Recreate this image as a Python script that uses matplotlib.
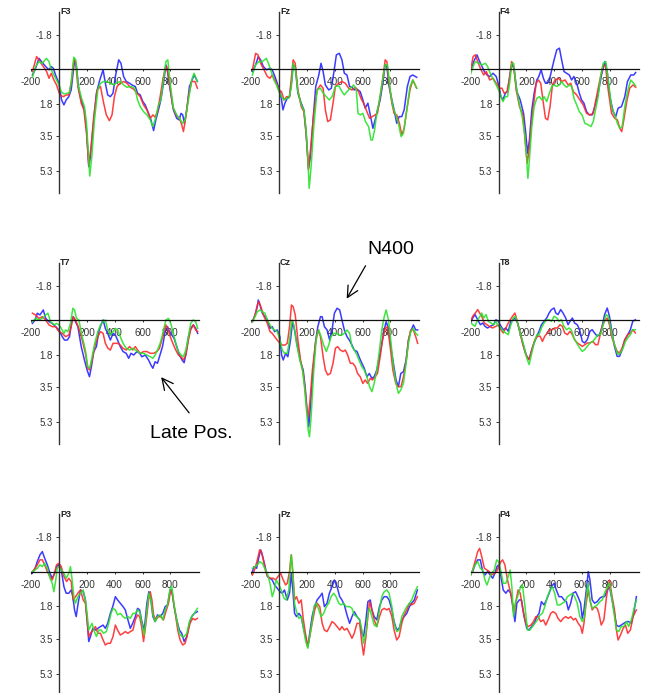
import matplotlib
matplotlib.use('Agg')
import matplotlib.pyplot as plt

# ERP waveforms (ms, microvolts; negative plotted up)
F3_blue = [(-190, 0.30), (-171, 0.03), (-143, -0.57), (-119, -0.35), (-95, -0.14), (-71, 0.03), (-55, -0.14), (-40, -0.05), (-24, 0.30), (0, 0.73), (19, 1.60), (36, 1.86), (52, 1.60), (71, 1.43), (88, 1.08), (107, -0.14), (114, -0.49), (126, -0.14), (143, 1.08), (167, 1.77), (183, 2.12), (198, 3.17), (214, 5.08), (226, 4.56), (245, 2.99), (269, 1.25), (293, 0.56), (317, 0.03), (333, 0.73), (350, 1.34), (369, 1.43), (388, 1.25), (405, 0.38), (429, -0.49), (445, -0.31), (464, 0.38), (483, 0.64), (507, 0.73), (524, 0.82), (548, 0.90), (564, 1.25), (583, 1.34), (602, 1.69), (619, 1.86), (643, 2.30), (660, 2.64), (679, 3.20), (695, 2.64), (714, 2.12), (731, 1.60), (750, 0.73), (767, -0.23), (779, 0.12), (798, 1.08), (821, 2.12), (845, 2.56), (862, 2.64), (876, 2.30), (888, 2.38), (900, 2.82), (917, 2.12), (936, 0.90), (960, 0.47), (971, 0.30), (993, 0.64)]
F3_red = [(-190, 0.12), (-160, -0.66), (-136, -0.40), (-112, -0.14), (-88, 0.12), (-71, 0.47), (-55, 0.21), (-36, 0.56), (-17, 0.82), (7, 1.34), (31, 1.43), (55, 1.34), (71, 1.34), (88, 0.73), (107, -0.49), (119, -0.40), (136, 0.90), (160, 1.77), (179, 2.12), (198, 3.34), (214, 4.99), (231, 4.03), (250, 2.47), (274, 1.08), (298, 0.90), (321, 1.77), (340, 2.38), (362, 2.68), (381, 2.38), (398, 1.43), (417, 0.90), (440, 0.73), (464, 0.64), (488, 0.73), (512, 0.94), (536, 1.04), (560, 1.25), (583, 1.43), (607, 1.86), (631, 2.12), (655, 2.56), (674, 2.38), (690, 2.50), (707, 2.21), (726, 1.43), (745, 0.56), (762, -0.05), (774, -0.14), (793, 0.73), (817, 1.95), (840, 2.38), (864, 2.56), (881, 2.90), (893, 3.25), (907, 2.64), (929, 1.43), (952, 0.64), (976, 0.64), (993, 0.99)]
F3_green = [(-190, 0.42), (-167, -0.14), (-143, -0.40), (-119, -0.31), (-90, -0.57), (-71, -0.40), (-55, 0.03), (-36, 0.30), (-17, 0.56), (0, 0.82), (17, 1.17), (36, 1.29), (60, 1.25), (76, 1.22), (90, 0.56), (107, -0.63), (121, -0.49), (138, 0.82), (162, 1.51), (183, 1.95), (198, 2.82), (210, 4.21), (221, 5.57), (236, 4.56), (255, 2.64), (279, 1.08), (298, 0.73), (321, 0.64), (345, 0.64), (369, 0.73), (393, 0.82), (417, 0.70), (440, 0.64), (464, 0.82), (488, 0.94), (512, 0.90), (536, 0.94), (548, 1.08), (564, 1.60), (583, 1.95), (607, 2.21), (631, 2.38), (655, 2.64), (674, 2.99), (693, 2.56), (714, 1.86), (731, 1.60), (750, 0.56), (767, -0.40), (781, -0.49), (798, 0.73), (821, 2.03), (845, 2.38), (869, 2.61), (888, 2.82), (905, 2.64), (929, 1.60), (952, 0.56), (969, 0.21), (993, 0.64)]

Fz_blue = [(-190, 0.12), (-167, -0.23), (-148, -0.66), (-131, -0.49), (-112, -0.14), (-88, 0.03), (-64, -0.05), (-48, 0.03), (-24, 0.47), (0, 0.99), (17, 1.51), (29, 2.12), (43, 1.77), (60, 1.51), (76, 1.43), (93, 0.56), (102, -0.23), (117, -0.14), (136, 1.25), (160, 1.77), (179, 2.12), (195, 3.34), (212, 5.17), (226, 4.56), (245, 2.64), (264, 0.90), (286, 0.30), (302, -0.31), (317, 0.12), (333, 0.82), (357, 1.08), (376, 0.99), (393, 0.21), (412, -0.75), (433, -0.83), (452, -0.49), (469, 0.21), (488, 0.30), (507, 0.90), (524, 0.94), (540, 1.08), (560, 1.04), (583, 1.17), (602, 1.60), (619, 2.03), (638, 1.77), (655, 2.38), (674, 3.08), (690, 2.64), (707, 2.12), (726, 1.60), (745, 0.73), (762, -0.23), (774, -0.14), (790, 0.90), (810, 1.60), (826, 2.12), (845, 2.82), (862, 2.47), (881, 2.47), (898, 2.12), (921, 0.90), (940, 0.38), (960, 0.30), (988, 0.42)]
Fz_red = [(-190, 0.03), (-167, -0.83), (-150, -0.75), (-131, -0.31), (-107, 0.03), (-83, 0.38), (-64, 0.47), (-48, 0.30), (-24, 0.64), (0, 1.08), (19, 1.17), (36, 1.60), (55, 1.43), (76, 1.43), (90, 0.38), (102, -0.49), (117, -0.31), (136, 1.08), (160, 1.95), (179, 2.21), (195, 3.34), (212, 5.25), (226, 4.21), (250, 2.30), (274, 1.08), (298, 0.82), (317, 0.99), (333, 2.12), (350, 2.73), (369, 2.64), (388, 1.77), (405, 0.90), (429, 0.73), (452, 0.64), (476, 0.73), (500, 0.99), (524, 1.08), (548, 0.94), (571, 1.17), (588, 1.51), (607, 1.77), (631, 2.21), (650, 2.56), (669, 2.47), (690, 2.38), (707, 2.30), (726, 1.43), (745, 0.47), (762, -0.49), (774, -0.40), (790, 0.73), (810, 1.77), (826, 2.30), (845, 2.38), (864, 2.82), (881, 3.43), (898, 3.08), (917, 2.12), (940, 1.08), (960, 0.56), (988, 0.99)]
Fz_green = [(-190, 0.30), (-167, -0.23), (-143, -0.40), (-119, -0.40), (-90, -0.57), (-71, -0.23), (-55, 0.12), (-36, 0.56), (-17, 0.82), (0, 1.17), (19, 1.43), (36, 1.60), (55, 1.51), (71, 1.51), (88, 0.99), (102, -0.31), (117, -0.05), (136, 1.17), (160, 1.86), (179, 2.12), (193, 2.99), (207, 4.56), (217, 6.21), (231, 5.08), (250, 2.99), (274, 1.08), (298, 0.99), (317, 1.25), (340, 1.43), (360, 1.60), (381, 1.43), (405, 0.90), (429, 0.87), (452, 1.17), (469, 1.34), (488, 1.17), (512, 0.99), (536, 0.82), (555, 1.08), (567, 2.30), (583, 2.38), (602, 2.30), (621, 2.73), (643, 2.99), (660, 3.69), (671, 3.69), (686, 3.17), (702, 2.30), (721, 1.60), (743, 0.56), (762, -0.23), (779, -0.23), (798, 1.08), (817, 1.95), (838, 2.38), (857, 2.82), (876, 3.51), (893, 3.34), (917, 2.12), (940, 0.90), (960, 0.56), (988, 0.99)]

F4_blue = [(-200, 0.12), (-179, -0.40), (-155, -0.75), (-136, -0.40), (-119, -0.14), (-102, 0.12), (-83, 0.30), (-64, 0.38), (-40, 0.21), (-17, 0.38), (0, 0.82), (17, 1.43), (31, 1.60), (48, 1.25), (64, 1.17), (83, 0.21), (98, -0.31), (112, 0.03), (131, 1.17), (155, 1.60), (179, 2.30), (195, 3.34), (207, 4.38), (221, 3.69), (238, 2.12), (255, 1.25), (274, 0.56), (288, 0.38), (305, 0.03), (321, 0.47), (336, 0.73), (350, 0.73), (364, 0.56), (381, 0.03), (398, -0.49), (417, -1.01), (436, -1.10), (452, -0.49), (469, 0.12), (488, 0.21), (507, 0.30), (524, 0.56), (540, 0.38), (560, 0.73), (579, 1.25), (595, 1.60), (612, 1.77), (631, 2.21), (650, 2.38), (671, 2.38), (690, 1.95), (714, 1.25), (738, 0.30), (762, -0.40), (779, 0.12), (798, 1.43), (821, 2.21), (840, 2.47), (857, 2.03), (881, 1.95), (905, 1.43), (924, 0.64), (948, 0.30), (969, 0.30), (983, 0.17)]
F4_red = [(-200, 0.03), (-183, -0.66), (-167, -0.75), (-150, -0.40), (-131, -0.05), (-107, 0.30), (-88, 0.12), (-64, 0.56), (-40, 0.47), (-17, 0.73), (7, 0.99), (24, 0.99), (40, 1.25), (60, 1.17), (76, 0.56), (93, -0.40), (107, -0.23), (126, 1.08), (150, 1.95), (174, 2.38), (190, 3.69), (205, 4.90), (219, 4.21), (238, 2.64), (255, 1.60), (269, 0.73), (286, 0.56), (302, 0.73), (321, 1.77), (336, 2.56), (352, 2.64), (369, 1.95), (386, 0.82), (405, 0.56), (429, 0.47), (452, 0.64), (476, 0.56), (500, 0.82), (517, 0.73), (536, 1.17), (560, 1.34), (583, 1.60), (607, 1.86), (631, 2.30), (655, 2.38), (679, 2.30), (702, 1.43), (726, 0.56), (750, -0.23), (767, -0.14), (786, 1.08), (810, 2.30), (833, 2.56), (852, 2.64), (869, 3.08), (883, 3.25), (898, 2.64), (921, 1.60), (940, 0.99), (964, 0.82), (983, 0.94)]
F4_green = [(-200, 0.24), (-183, -0.14), (-167, -0.40), (-143, -0.31), (-119, -0.23), (-95, -0.31), (-79, -0.14), (-60, 0.21), (-36, 0.56), (-17, 0.82), (0, 1.08), (17, 1.43), (31, 1.69), (48, 1.43), (64, 1.43), (79, 0.73), (95, -0.31), (107, -0.31), (126, 0.90), (150, 1.86), (169, 2.47), (186, 3.34), (200, 4.56), (210, 5.69), (221, 4.73), (238, 2.99), (255, 1.95), (274, 1.51), (293, 1.43), (310, 1.60), (326, 1.43), (345, 1.69), (364, 1.25), (381, 0.90), (398, 0.82), (417, 0.90), (436, 0.82), (452, 0.64), (469, 0.82), (488, 0.94), (507, 0.82), (524, 0.90), (540, 1.51), (560, 1.86), (579, 2.21), (598, 2.38), (619, 2.82), (643, 2.90), (662, 2.99), (679, 2.73), (695, 2.12), (714, 1.43), (731, 0.38), (750, -0.31), (769, -0.40), (786, 0.56), (810, 1.95), (833, 2.38), (852, 2.82), (869, 3.08), (886, 2.99), (905, 1.95), (924, 1.17), (948, 0.56), (969, 0.73), (983, 0.87)]

T7_blue = [(-190, 0.16), (-171, -0.02), (-155, -0.37), (-136, -0.28), (-112, -0.54), (-95, -0.10), (-71, 0.07), (-48, 0.16), (-24, 0.33), (0, 0.50), (24, 0.85), (40, 1.03), (60, 1.03), (76, 0.85), (90, 0.16), (102, -0.19), (119, 0.07), (136, 0.33), (160, 1.37), (183, 2.07), (202, 2.59), (219, 2.94), (233, 2.42), (250, 1.63), (269, 1.37), (286, 0.59), (302, 0.24), (317, -0.02), (333, 0.42), (350, 0.68), (369, 1.03), (388, 0.68), (405, 0.77), (421, 1.03), (440, 1.37), (460, 1.63), (483, 1.72), (500, 1.98), (517, 1.72), (536, 1.81), (560, 1.63), (579, 1.72), (595, 1.90), (619, 1.81), (643, 2.07), (660, 2.33), (674, 2.50), (690, 2.16), (707, 2.24), (721, 1.90), (743, 1.37), (762, 0.59), (779, 0.33), (793, 0.59), (810, 0.77), (826, 0.94), (845, 1.37), (864, 1.81), (883, 2.07), (898, 2.21), (912, 1.72), (929, 0.85), (945, 0.42), (964, 0.24), (981, 0.42), (995, 0.68)]
T7_red = [(-190, -0.37), (-167, -0.28), (-143, -0.10), (-119, -0.19), (-95, -0.02), (-71, 0.24), (-48, 0.33), (-24, 0.33), (0, 0.59), (24, 0.68), (48, 0.85), (71, 0.77), (88, 0.33), (102, -0.19), (119, -0.02), (143, 0.42), (167, 1.03), (190, 1.72), (207, 2.50), (221, 2.59), (238, 2.07), (257, 1.37), (279, 0.85), (298, 0.59), (317, 0.68), (333, 1.20), (352, 1.46), (369, 1.55), (388, 1.20), (405, 1.20), (421, 1.20), (440, 1.29), (460, 1.46), (483, 1.55), (507, 1.37), (529, 1.55), (548, 1.37), (564, 1.55), (583, 1.72), (607, 1.63), (631, 1.63), (655, 1.72), (679, 1.72), (702, 1.63), (721, 1.46), (745, 0.85), (767, 0.24), (781, 0.42), (798, 0.85), (817, 1.20), (838, 1.55), (857, 1.81), (876, 1.90), (893, 2.07), (910, 1.81), (929, 1.03), (945, 0.50), (964, 0.24), (981, 0.50), (995, 0.59)]
T7_green = [(-190, 0.07), (-167, -0.10), (-143, -0.02), (-119, -0.10), (-95, -0.28), (-79, -0.37), (-60, 0.07), (-36, 0.24), (-17, 0.16), (0, 0.24), (17, 0.42), (36, 0.68), (48, 0.50), (64, 0.59), (83, 0.16), (100, -0.63), (112, -0.54), (126, -0.10), (143, -0.02), (167, 0.85), (190, 1.55), (207, 2.42), (221, 2.50), (238, 1.90), (257, 1.20), (279, 0.59), (298, 0.24), (317, 0.07), (333, -0.02), (350, 0.50), (369, 0.77), (388, 0.59), (405, 0.42), (421, 0.50), (440, 0.85), (460, 1.20), (483, 1.46), (507, 1.55), (529, 1.46), (548, 1.55), (564, 1.63), (583, 1.72), (607, 1.72), (631, 1.81), (655, 1.90), (674, 1.98), (690, 1.81), (707, 1.55), (726, 1.20), (745, 0.68), (767, -0.02), (786, -0.10), (802, 0.16), (821, 0.68), (838, 1.20), (857, 1.63), (876, 1.81), (893, 1.90), (910, 1.55), (929, 0.85), (945, 0.16), (964, -0.02), (981, 0.07), (995, 0.42)]

Cz_blue = [(-190, 0.07), (-171, -0.28), (-155, -0.71), (-148, -1.06), (-136, -0.80), (-119, -0.37), (-100, -0.19), (-83, -0.02), (-64, 0.42), (-48, 0.33), (-31, 0.59), (-12, 0.50), (7, 0.85), (19, 1.81), (31, 2.07), (48, 1.72), (64, 1.90), (83, 1.03), (98, 0.07), (112, 0.50), (131, 1.29), (155, 2.16), (174, 2.59), (188, 3.46), (202, 4.68), (214, 5.55), (226, 4.50), (245, 2.59), (264, 1.03), (279, 0.33), (298, -0.19), (310, -0.19), (326, 0.33), (345, 0.50), (364, 1.03), (381, 0.50), (398, -0.37), (417, -0.63), (436, -0.54), (452, -0.02), (469, 0.50), (488, 0.85), (505, 1.03), (524, 1.29), (540, 1.55), (560, 1.63), (579, 1.98), (595, 2.24), (612, 2.50), (631, 2.94), (648, 2.77), (667, 3.03), (683, 2.94), (702, 2.59), (721, 1.90), (738, 1.20), (755, 0.50), (769, 0.07), (786, 0.42), (802, 1.37), (821, 2.24), (840, 3.11), (857, 3.46), (874, 2.77), (893, 2.68), (912, 2.07), (929, 1.03), (945, 0.59), (964, 0.24), (981, 0.50), (995, 0.50)]
Cz_red = [(-190, 0.07), (-171, -0.28), (-155, -0.80), (-143, -0.97), (-126, -0.63), (-107, -0.19), (-83, 0.16), (-64, 0.59), (-48, 0.68), (-31, 0.85), (-12, 1.03), (7, 1.20), (24, 1.29), (43, 1.29), (60, 1.20), (76, 0.33), (90, -0.80), (102, -0.71), (117, -0.28), (136, 1.03), (155, 2.07), (174, 2.77), (188, 3.63), (200, 4.68), (210, 5.03), (221, 4.33), (240, 2.59), (262, 1.20), (281, 0.50), (298, 0.85), (317, 1.90), (333, 2.59), (350, 2.85), (369, 2.77), (388, 2.24), (405, 1.46), (421, 1.37), (440, 1.55), (460, 1.63), (476, 1.55), (493, 1.81), (512, 2.24), (531, 2.24), (548, 2.42), (564, 2.77), (583, 2.94), (602, 3.29), (619, 3.11), (636, 3.29), (655, 3.03), (671, 3.11), (690, 2.94), (707, 2.77), (726, 1.90), (743, 1.03), (762, 0.42), (779, 0.33), (798, 1.37), (817, 2.59), (838, 3.29), (857, 3.46), (876, 3.46), (893, 2.94), (912, 2.16), (929, 1.03), (945, 0.50), (964, 0.50), (981, 0.85), (995, 1.20)]
Cz_green = [(-190, 0.07), (-171, -0.19), (-155, -0.45), (-136, -0.54), (-119, -0.45), (-100, -0.37), (-83, -0.02), (-64, 0.24), (-48, 0.42), (-31, 0.50), (-12, 0.59), (7, 1.03), (24, 1.55), (40, 1.72), (60, 1.72), (76, 1.03), (93, -0.02), (107, 0.24), (126, 1.20), (150, 2.07), (169, 2.59), (183, 3.46), (198, 4.68), (210, 5.72), (219, 6.07), (231, 5.03), (250, 2.59), (269, 0.85), (286, 0.50), (302, 0.85), (321, 1.29), (340, 1.63), (357, 1.29), (374, 0.85), (393, 0.68), (412, 0.68), (431, 0.77), (452, 0.77), (469, 0.68), (488, 0.50), (507, 0.68), (524, 1.37), (540, 1.55), (560, 1.81), (579, 2.16), (595, 2.42), (612, 2.59), (631, 2.94), (650, 3.46), (667, 3.72), (683, 3.29), (702, 2.59), (721, 1.55), (738, 0.50), (755, -0.19), (769, -0.54), (786, -0.02), (802, 1.03), (821, 2.42), (840, 3.29), (857, 3.81), (874, 3.63), (893, 3.29), (912, 2.24), (929, 1.20), (945, 0.59), (964, 0.42), (981, 0.68), (995, 0.77)]

T8_blue = [(-200, 0.14), (-186, -0.12), (-169, -0.30), (-150, -0.03), (-131, 0.23), (-114, 0.14), (-98, 0.31), (-79, 0.40), (-60, 0.31), (-36, 0.23), (-19, -0.03), (-2, 0.05), (17, 0.31), (33, 0.49), (52, 0.40), (69, 0.57), (88, 0.05), (105, -0.03), (119, -0.12), (136, 0.14), (155, 0.66), (179, 1.36), (202, 1.88), (219, 2.05), (238, 1.53), (255, 1.18), (274, 0.83), (290, 0.57), (307, 0.23), (326, 0.05), (345, -0.12), (362, -0.38), (379, -0.56), (398, -0.64), (410, -0.38), (426, -0.30), (445, -0.56), (462, -0.38), (481, -0.12), (498, 0.23), (512, 0.05), (529, -0.12), (545, 0.14), (564, 0.23), (581, 0.49), (600, 1.10), (617, 1.18), (636, 1.01), (655, 0.57), (671, 0.49), (688, 0.66), (707, 0.83), (724, 0.75), (743, 0.31), (760, -0.30), (779, -0.64), (795, -0.21), (814, 0.66), (831, 1.36), (850, 1.88), (867, 1.88), (886, 1.53), (905, 1.01), (926, 0.75), (945, 0.49), (962, 0.05), (981, -0.03)]
T8_red = [(-200, 0.05), (-186, -0.21), (-167, -0.38), (-150, -0.56), (-136, -0.38), (-121, -0.21), (-102, 0.14), (-83, 0.23), (-67, 0.31), (-43, 0.40), (-19, 0.31), (-2, 0.23), (17, 0.49), (33, 0.66), (52, 0.40), (76, 0.05), (100, -0.21), (117, -0.38), (131, -0.03), (148, 0.49), (171, 1.18), (195, 1.79), (219, 2.05), (238, 1.53), (260, 1.01), (279, 0.83), (298, 0.83), (314, 1.10), (331, 0.83), (350, 0.66), (369, 0.49), (386, 0.49), (402, 0.40), (421, 0.40), (440, 0.23), (457, 0.31), (474, 0.66), (493, 0.75), (512, 0.57), (529, 0.75), (545, 1.01), (564, 1.18), (583, 1.27), (600, 1.36), (619, 1.27), (636, 1.18), (655, 1.18), (676, 1.10), (695, 1.27), (712, 1.27), (726, 0.83), (743, 0.31), (760, 0.05), (779, -0.12), (795, 0.23), (814, 0.92), (831, 1.27), (850, 1.62), (867, 1.70), (886, 1.44), (905, 1.01), (926, 0.75), (945, 0.66), (962, 0.49), (981, 0.66)]
T8_green = [(-200, 0.10), (-186, 0.23), (-169, 0.31), (-150, -0.03), (-133, -0.21), (-121, -0.38), (-107, -0.12), (-90, -0.30), (-74, 0.05), (-55, 0.14), (-36, 0.23), (-19, 0.05), (-2, 0.31), (17, 0.40), (33, 0.57), (52, 0.66), (69, 0.75), (88, 0.23), (105, -0.12), (119, -0.21), (136, 0.14), (155, 0.66), (179, 1.27), (202, 1.97), (219, 2.31), (238, 1.70), (255, 1.18), (274, 0.75), (290, 0.75), (307, 0.40), (326, 0.14), (345, -0.03), (362, -0.03), (379, 0.05), (398, -0.21), (417, -0.12), (433, 0.05), (450, -0.03), (469, 0.31), (488, 0.49), (505, 0.40), (521, 0.49), (540, 0.92), (560, 1.18), (581, 1.44), (600, 1.62), (617, 1.53), (636, 1.36), (655, 1.18), (676, 1.10), (695, 0.92), (712, 0.75), (731, 0.75), (750, 0.23), (771, -0.30), (786, -0.21), (802, 0.31), (821, 1.01), (838, 1.44), (855, 1.79), (874, 1.70), (893, 1.44), (910, 1.10), (926, 0.92), (945, 0.75), (962, 0.49), (981, 0.49)]

P3_blue = [(-190, 0.07), (-171, -0.19), (-155, -0.54), (-136, -0.89), (-119, -1.06), (-102, -0.71), (-83, -0.37), (-64, 0.07), (-48, 0.33), (-31, 0.07), (-17, -0.28), (0, -0.37), (17, -0.10), (36, 0.77), (52, 1.11), (71, 1.11), (88, 0.94), (100, 1.29), (112, 1.98), (124, 2.33), (138, 1.63), (155, 0.94), (174, 1.03), (190, 1.46), (202, 2.50), (214, 3.63), (226, 3.37), (243, 2.94), (262, 3.03), (279, 2.94), (298, 2.85), (317, 2.77), (333, 2.94), (350, 2.68), (369, 2.16), (386, 1.81), (405, 1.29), (421, 1.46), (440, 1.63), (460, 1.81), (476, 1.98), (495, 2.50), (512, 2.94), (529, 2.68), (548, 2.33), (564, 1.90), (579, 1.98), (595, 2.59), (612, 3.03), (631, 1.63), (645, 1.03), (660, 1.46), (674, 2.33), (690, 2.59), (707, 2.24), (726, 2.33), (745, 2.16), (762, 1.81), (779, 1.72), (798, 0.94), (810, 0.94), (826, 1.81), (845, 2.50), (864, 3.03), (881, 3.20), (898, 3.63), (917, 3.37), (936, 2.68), (952, 2.33), (971, 2.16), (993, 2.07)]
P3_red = [(-190, -0.02), (-171, -0.19), (-155, -0.37), (-136, -0.63), (-119, -0.63), (-102, -0.37), (-83, -0.02), (-64, 0.24), (-48, 0.42), (-31, 0.07), (-17, -0.37), (0, -0.45), (17, -0.28), (36, 0.24), (55, 0.50), (71, 0.33), (88, 0.50), (102, 1.46), (119, 1.29), (136, 1.11), (155, 0.94), (174, 1.46), (190, 1.63), (202, 2.50), (214, 3.37), (226, 3.20), (245, 3.03), (262, 2.85), (279, 3.20), (298, 3.20), (317, 3.55), (333, 3.81), (350, 3.72), (369, 3.72), (388, 3.37), (405, 2.77), (421, 3.03), (440, 3.29), (460, 3.20), (476, 3.11), (495, 3.20), (512, 3.11), (531, 3.03), (548, 2.50), (564, 2.24), (579, 2.33), (595, 2.94), (607, 3.63), (624, 2.68), (643, 1.46), (655, 1.03), (667, 1.46), (679, 2.24), (695, 2.50), (714, 2.33), (731, 2.33), (750, 2.50), (767, 2.07), (786, 1.63), (802, 0.94), (814, 1.20), (833, 2.07), (852, 3.03), (869, 3.55), (888, 3.81), (905, 3.72), (921, 3.29), (940, 2.68), (960, 2.42), (976, 2.50), (993, 2.42)]
P3_green = [(-190, -0.02), (-171, -0.10), (-155, -0.19), (-136, -0.37), (-119, -0.28), (-102, -0.45), (-83, -0.19), (-64, 0.33), (-48, 0.59), (-36, 1.03), (-24, 0.50), (-12, -0.19), (0, -0.28), (17, -0.10), (36, 0.07), (52, 0.33), (71, 0.07), (83, -0.28), (95, 0.42), (107, 1.29), (119, 1.63), (136, 1.29), (155, 1.11), (174, 0.94), (190, 1.46), (202, 2.16), (214, 3.03), (226, 2.85), (238, 2.68), (250, 3.03), (269, 3.37), (286, 3.03), (302, 3.03), (321, 3.20), (340, 3.11), (357, 2.68), (374, 2.16), (388, 1.90), (405, 1.98), (421, 2.24), (440, 2.16), (460, 2.33), (476, 2.42), (495, 2.33), (512, 2.42), (531, 2.16), (548, 2.16), (564, 1.98), (579, 2.07), (595, 2.68), (612, 3.29), (631, 1.98), (645, 1.11), (660, 1.46), (674, 2.24), (690, 2.59), (707, 2.33), (726, 2.24), (745, 2.50), (762, 1.98), (779, 1.72), (798, 0.85), (810, 0.77), (826, 1.72), (845, 2.50), (864, 3.20), (881, 3.37), (898, 3.37), (917, 3.20), (936, 2.59), (952, 2.33), (971, 2.16), (993, 1.90)]

Pz_blue = [(-190, -0.02), (-179, -0.28), (-160, -0.19), (-143, -0.80), (-131, -1.15), (-119, -0.89), (-102, -0.37), (-83, 0.24), (-64, 0.33), (-48, 0.42), (-31, 0.68), (-12, 0.85), (7, 1.03), (24, 1.11), (40, 0.94), (60, 1.46), (76, 1.11), (88, 0.07), (100, 0.94), (112, 2.16), (126, 2.33), (143, 2.16), (160, 2.33), (174, 2.85), (190, 3.37), (207, 3.90), (221, 3.20), (238, 2.33), (255, 1.81), (274, 1.46), (293, 1.29), (310, 1.11), (326, 1.81), (345, 1.63), (362, 1.11), (381, 0.77), (398, 0.42), (417, 0.77), (436, 1.29), (452, 1.46), (469, 1.72), (488, 2.24), (507, 2.68), (524, 2.33), (540, 2.07), (560, 2.33), (579, 2.50), (595, 3.20), (607, 3.37), (624, 2.50), (638, 1.55), (655, 1.46), (667, 1.98), (683, 2.33), (702, 2.50), (721, 1.81), (738, 1.46), (755, 1.29), (774, 1.29), (790, 1.46), (810, 1.98), (826, 2.59), (845, 3.03), (862, 2.94), (881, 2.50), (898, 2.33), (917, 2.16), (936, 1.81), (952, 1.63), (971, 1.46), (993, 0.94)]
Pz_red = [(-190, 0.16), (-171, -0.19), (-155, -0.63), (-138, -1.15), (-126, -1.06), (-112, -0.63), (-95, -0.02), (-79, 0.24), (-60, 0.33), (-40, 0.33), (-24, 0.42), (-7, 0.24), (12, 0.07), (31, 0.42), (48, 0.68), (60, 0.59), (76, -0.02), (88, -0.89), (100, 0.07), (112, 1.46), (126, 1.29), (143, 1.63), (160, 1.46), (174, 2.42), (190, 3.20), (207, 3.90), (221, 3.37), (238, 2.68), (257, 1.98), (274, 1.63), (293, 1.81), (310, 2.68), (326, 3.03), (345, 3.11), (364, 2.85), (381, 2.59), (398, 2.68), (417, 2.85), (436, 3.03), (452, 2.85), (469, 3.03), (488, 2.94), (507, 3.20), (524, 3.46), (540, 3.20), (560, 2.68), (579, 2.68), (595, 3.72), (607, 4.33), (624, 3.37), (638, 2.33), (650, 1.55), (667, 1.98), (683, 2.50), (702, 2.85), (721, 2.33), (738, 1.98), (755, 1.90), (774, 1.98), (790, 1.90), (810, 2.33), (826, 3.03), (845, 3.55), (862, 3.37), (881, 2.68), (898, 2.24), (917, 1.98), (936, 1.63), (952, 1.72), (971, 1.63), (993, 1.29)]
Pz_green = [(-190, -0.19), (-171, -0.28), (-155, -0.37), (-138, -0.54), (-119, -0.45), (-102, -0.19), (-83, 0.07), (-64, 0.59), (-48, 1.29), (-36, 1.03), (-19, 0.42), (0, 0.68), (17, 0.94), (36, 1.37), (52, 1.46), (71, 0.94), (83, -0.45), (90, -0.89), (102, 0.24), (112, 1.63), (126, 2.07), (143, 2.42), (160, 2.33), (174, 2.85), (190, 3.55), (207, 3.98), (221, 3.37), (238, 2.59), (255, 1.72), (269, 1.63), (286, 1.98), (302, 2.33), (321, 2.16), (340, 1.81), (357, 1.63), (374, 1.29), (393, 1.11), (410, 1.29), (429, 1.63), (445, 1.72), (464, 1.63), (483, 1.81), (507, 1.81), (524, 1.90), (540, 2.24), (560, 2.33), (579, 2.50), (595, 3.03), (607, 3.72), (624, 3.20), (638, 2.16), (650, 1.90), (667, 2.33), (683, 2.77), (702, 2.85), (721, 1.98), (738, 1.29), (755, 1.03), (774, 0.94), (790, 1.11), (810, 1.81), (826, 2.68), (845, 3.11), (862, 3.03), (881, 2.33), (898, 2.07), (917, 1.81), (936, 1.63), (952, 1.46), (971, 1.11), (993, 0.77)]

P4_blue = [(-200, 0.07), (-186, -0.02), (-169, -0.37), (-150, -0.63), (-131, -0.63), (-114, -0.02), (-98, 0.16), (-79, -0.02), (-60, 0.16), (-43, 0.33), (-26, 0.07), (-12, -0.28), (0, -0.37), (17, 0.24), (33, 0.94), (52, 1.11), (69, 0.94), (88, 1.11), (105, 1.98), (117, 2.59), (131, 1.63), (148, 1.46), (164, 1.46), (183, 2.33), (202, 2.94), (219, 3.03), (236, 2.85), (255, 2.68), (274, 2.33), (290, 2.16), (307, 1.55), (326, 1.72), (343, 1.46), (362, 1.11), (379, 0.77), (398, 0.59), (414, 0.94), (433, 1.29), (452, 1.29), (469, 1.46), (486, 1.55), (500, 1.98), (517, 1.63), (533, 1.11), (552, 1.03), (569, 1.29), (588, 1.63), (600, 2.42), (612, 1.98), (629, 0.94), (643, -0.02), (655, 0.42), (671, 1.46), (688, 1.63), (707, 1.55), (726, 1.37), (743, 1.29), (760, 1.29), (779, 0.94), (795, 0.77), (814, 1.46), (831, 2.16), (845, 2.77), (862, 2.85), (879, 2.77), (898, 2.68), (917, 2.59), (933, 2.59), (952, 2.68), (969, 2.16), (988, 1.29)]
P4_red = [(-200, 0.16), (-186, -0.10), (-169, -0.54), (-150, -1.06), (-136, -1.23), (-121, -0.80), (-102, -0.19), (-83, -0.10), (-67, -0.02), (-50, 0.16), (-31, 0.07), (-14, -0.02), (0, -0.28), (17, -0.54), (29, -0.63), (45, -0.37), (64, 0.42), (81, 0.94), (100, 1.63), (112, 2.16), (126, 1.46), (140, 0.94), (155, 1.11), (174, 1.98), (195, 2.68), (212, 2.85), (231, 2.77), (250, 2.59), (267, 2.33), (283, 2.33), (302, 2.59), (321, 2.50), (338, 2.77), (355, 2.50), (374, 2.16), (390, 2.07), (410, 2.16), (426, 2.42), (445, 2.59), (464, 2.42), (481, 2.33), (500, 2.42), (517, 2.33), (536, 2.50), (552, 2.42), (571, 2.68), (588, 2.85), (600, 3.20), (612, 2.68), (626, 1.72), (643, 0.94), (655, 1.46), (671, 1.98), (690, 1.81), (707, 1.90), (719, 2.16), (736, 2.77), (755, 2.50), (774, 1.29), (795, 0.42), (814, 1.29), (831, 1.98), (845, 3.03), (857, 3.55), (874, 3.29), (893, 2.94), (910, 2.77), (926, 3.20), (945, 3.03), (964, 2.33), (988, 1.98)]
P4_green = [(-200, 0.16), (-186, -0.10), (-169, -0.37), (-150, -0.54), (-131, -0.19), (-114, -0.10), (-98, 0.42), (-83, 0.68), (-67, 0.33), (-50, 0.07), (-31, -0.10), (-14, -0.63), (0, -0.54), (17, -0.02), (33, 0.59), (52, 0.59), (69, 0.24), (83, -0.10), (95, 0.77), (107, 2.33), (119, 1.63), (136, 1.29), (155, 0.85), (171, 0.68), (188, 1.72), (207, 3.03), (224, 3.03), (243, 2.85), (260, 2.68), (279, 2.50), (298, 2.24), (314, 2.16), (331, 1.81), (350, 1.29), (369, 0.94), (386, 0.77), (402, 1.11), (421, 1.72), (440, 1.72), (457, 1.63), (476, 1.55), (493, 1.29), (512, 1.20), (529, 1.11), (545, 1.29), (564, 1.63), (583, 2.33), (600, 2.59), (617, 2.33), (629, 1.29), (640, 0.59), (655, 1.46), (671, 1.90), (690, 1.81), (707, 1.72), (726, 1.55), (743, 1.46), (760, 1.11), (779, 0.77), (795, 0.59), (814, 1.46), (831, 2.33), (845, 3.03), (862, 3.11), (879, 2.85), (898, 2.85), (917, 2.59), (933, 2.85), (952, 2.50), (969, 1.98), (988, 1.46)]

channels = ['F3', 'Fz', 'F4', 'T7', 'Cz', 'T8', 'P3', 'Pz', 'P4']
waves = {
    'F3': [F3_blue, F3_red, F3_green], 'Fz': [Fz_blue, Fz_red, Fz_green], 'F4': [F4_blue, F4_red, F4_green],
    'T7': [T7_blue, T7_red, T7_green], 'Cz': [Cz_blue, Cz_red, Cz_green], 'T8': [T8_blue, T8_red, T8_green],
    'P3': [P3_blue, P3_red, P3_green], 'Pz': [Pz_blue, Pz_red, Pz_green], 'P4': [P4_blue, P4_red, P4_green],
}
line_colors = ['#2626ff', '#ff2a2a', '#2be22b']
yticks = [-1.8, 1.8, 3.5, 5.3]
xticks = [-200, 200, 400, 600, 800]

plt.rcParams['font.family'] = ['Liberation Sans', 'DejaVu Sans']

fig = plt.figure(figsize=(6.49, 6.93), dpi=100)

col_left = [0.0478, 0.3868, 0.7253]
row_bottom = [0.7216, 0.3593, -0.0038]
axes = {}
for i, ch in enumerate(channels):
    r, c = divmod(i, 3)
    ax = fig.add_axes([col_left[c], row_bottom[r], 0.2589, 0.2615])
    axes[ch] = ax
    for wave, col in zip(waves[ch], line_colors):
        t = [p[0] for p in wave]
        v = [p[1] for p in wave]
        ax.plot(t, v, color=col, lw=1.1, alpha=0.9, solid_joinstyle='round')
    ax.set_xlim(-195, 1005)
    ax.set_ylim(6.45, -3.0)
    ax.set_axisbelow(True)
    for s in ['top', 'right']:
        ax.spines[s].set_visible(False)
    ax.spines['left'].set_position(('data', 0))
    ax.spines['bottom'].set_position(('data', 0))
    ax.spines['left'].set_color('#333333')
    ax.spines['bottom'].set_color('#111111')
    ax.spines['left'].set_linewidth(1.0)
    ax.spines['bottom'].set_linewidth(0.9)
    ax.set_yticks(yticks)
    ax.set_yticklabels([f'{y:.1f}' for y in yticks])
    ax.set_xticks(xticks)
    ax.set_xticklabels([str(x) for x in xticks])
    ax.tick_params(axis='y', length=2, width=0.7, pad=2.5, labelsize=7, colors='#333333')
    ax.tick_params(axis='x', length=1.5, width=0.7, pad=4, labelsize=7.2, colors='#333333')
    ax.patch.set_visible(False)
    ax.text(8, -3.0, ch, fontsize=6.5, fontweight='bold', ha='left', va='center',
            color='#222222', clip_on=False)

# annotations
cz = axes['Cz']
cz.text(805, -3.67, 'N400', fontsize=14, ha='center', va='center', clip_on=False)
cz.annotate('', xy=(476, -1.0), xytext=(631, -2.97), annotation_clip=False,
            arrowprops=dict(arrowstyle='->,head_length=0.8,head_width=0.4', lw=0.9, color='black'))

t7 = axes['T7']
t7.text(948, 5.88, 'Late Pos.', fontsize=14, ha='center', va='center', clip_on=False)
t7.annotate('', xy=(721, 2.85), xytext=(946, 4.94), annotation_clip=False,
            arrowprops=dict(arrowstyle='->,head_length=0.8,head_width=0.4', lw=0.9, color='black'))

fig.savefig('out.png', dpi=100)
